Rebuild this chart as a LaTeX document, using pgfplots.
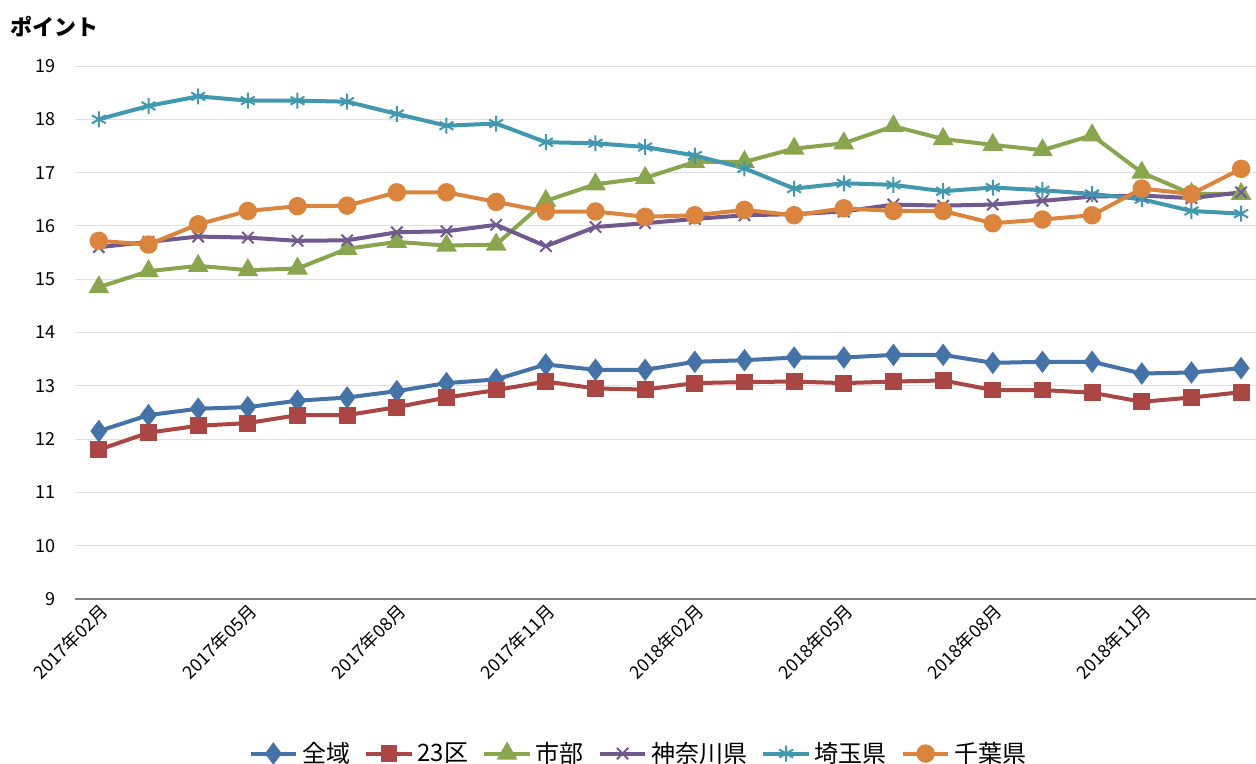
\documentclass[border=0pt]{standalone}
\usepackage{pgfplots}
\pgfplotsset{compat=1.18}
\usepackage{fontspec}
\setmainfont{Noto Sans CJK JP}
\definecolor{c1}{HTML}{4572A7}
\definecolor{c2}{HTML}{AA4643}
\definecolor{c3}{HTML}{89A54E}
\definecolor{c4}{HTML}{71588F}
\definecolor{c5}{HTML}{4198AF}
\definecolor{c6}{HTML}{DB843D}
\begin{document}
\begin{tikzpicture}
\begin{axis}[at={(0,0)},anchor=south west,scale only axis,
 width=590.5pt,height=266.5pt,
 xmin=-0.48,xmax=23.3,ymin=9,ymax=19,
 ytick={9,...,19},
 xtick={0,3,...,21},
 xticklabels={2017年02月,2017年05月,2017年08月,2017年11月,2018年02月,2018年05月,2018年08月,2018年11月},
 x tick label style={rotate=45,anchor=north east,font=\fontsize{9}{10}\selectfont,inner sep=1pt},
 y tick label style={font=\fontsize{9}{10}\selectfont},
 yticklabel style={xshift=-6pt},
 /pgf/number format/assume math mode=true,
 axis x line*=bottom, axis y line*=left,
 y axis line style={draw=none},
 x axis line style={draw=gray,line width=0.6pt,-},
 xtick style={draw=none}, ytick style={draw=none},
 ymajorgrids, grid style={draw=gray!25,line width=0.4pt},
 every axis plot/.append style={line width=2pt,mark size=3.2pt},
 legend columns=6,
 legend style={at={(0.478,-0.29)},anchor=center,draw=none,font=\fontsize{12}{13}\selectfont,/tikz/every even column/.append style={column sep=5pt}},
 legend image code/.code={\draw[#1,mark repeat=2,mark phase=2] plot coordinates {(0cm,0cm)(0.4cm,0cm)(0.8cm,0cm)};},
 clip=false,
]
\addplot[c1,mark=diamond*,mark size=4pt] coordinates {(0,12.15)(1,12.45)(2,12.57)(3,12.6)(4,12.72)(5,12.78)(6,12.9)(7,13.05)(8,13.12)(9,13.4)(10,13.3)(11,13.3)(12,13.45)(13,13.48)(14,13.53)(15,13.53)(16,13.58)(17,13.58)(18,13.43)(19,13.45)(20,13.45)(21,13.23)(22,13.25)(23,13.33)};
\addlegendentry{全域}
\addplot[c2,mark=square*] coordinates {(0,11.8)(1,12.12)(2,12.25)(3,12.3)(4,12.45)(5,12.45)(6,12.6)(7,12.78)(8,12.92)(9,13.08)(10,12.95)(11,12.93)(12,13.05)(13,13.07)(14,13.08)(15,13.05)(16,13.08)(17,13.1)(18,12.92)(19,12.92)(20,12.87)(21,12.7)(22,12.78)(23,12.88)};
\addlegendentry{23区}
\addplot[c3,mark=triangle*,mark size=4pt] coordinates {(0,14.85)(1,15.15)(2,15.25)(3,15.17)(4,15.2)(5,15.57)(6,15.7)(7,15.63)(8,15.65)(9,16.47)(10,16.78)(11,16.9)(12,17.2)(13,17.2)(14,17.45)(15,17.55)(16,17.87)(17,17.63)(18,17.52)(19,17.42)(20,17.7)(21,17.0)(22,16.6)(23,16.6)};
\addlegendentry{市部}
\addplot[c4,mark=x,mark size=4pt,mark options={line width=1pt}] coordinates {(0,15.6)(1,15.7)(2,15.8)(3,15.78)(4,15.72)(5,15.73)(6,15.88)(7,15.9)(8,16.02)(9,15.62)(10,15.98)(11,16.05)(12,16.13)(13,16.2)(14,16.22)(15,16.27)(16,16.4)(17,16.38)(18,16.4)(19,16.47)(20,16.55)(21,16.57)(22,16.52)(23,16.63)};
\addlegendentry{神奈川県}
\addplot[c5,mark=asterisk,mark size=4pt,mark options={line width=1pt}] coordinates {(0,18.0)(1,18.25)(2,18.43)(3,18.35)(4,18.35)(5,18.33)(6,18.1)(7,17.88)(8,17.92)(9,17.57)(10,17.55)(11,17.48)(12,17.32)(13,17.08)(14,16.7)(15,16.8)(16,16.77)(17,16.65)(18,16.72)(19,16.67)(20,16.6)(21,16.5)(22,16.28)(23,16.23)};
\addlegendentry{埼玉県}
\addplot[c6,mark=*,mark size=3.6pt] coordinates {(0,15.72)(1,15.65)(2,16.03)(3,16.28)(4,16.37)(5,16.38)(6,16.63)(7,16.63)(8,16.45)(9,16.27)(10,16.27)(11,16.17)(12,16.2)(13,16.3)(14,16.2)(15,16.33)(16,16.28)(17,16.28)(18,16.05)(19,16.12)(20,16.2)(21,16.7)(22,16.6)(23,17.07)};
\addlegendentry{千葉県}
\end{axis}
\node[anchor=west,font=\bfseries\fontsize{11}{12}\selectfont,inner sep=0pt] at (-32.5pt,286pt) {ポイント};
\pgfresetboundingbox
\path (-37.5pt,-82.5pt) rectangle (590.5pt,299.5pt);
\end{tikzpicture}
\end{document}
